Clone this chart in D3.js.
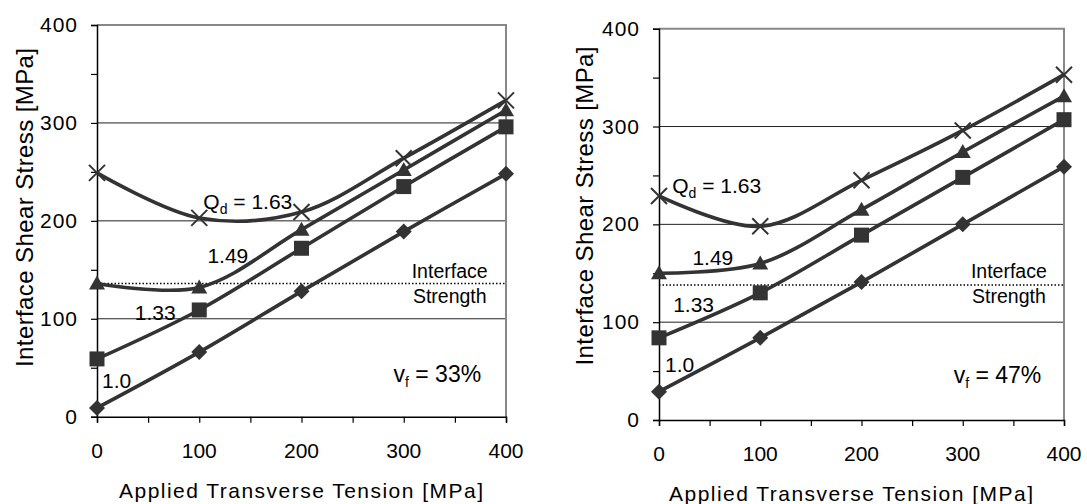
<!DOCTYPE html>
<html>
<head>
<meta charset="utf-8">
<script src="https://cdn.jsdelivr.net/npm/d3@7"></script>
<style>
  body { margin: 0; background: #fff; }
  svg { display: block; font-family: "Liberation Sans", Arial, sans-serif; }
</style>
</head>
<body>
<div class="visHolder"></div>
<script>
// applied transverse tension [MPa]
const tension = [0, 100, 200, 300, 400];
const xTicks = [0, 100, 200, 300, 400];
const yTicks = [0, 100, 200, 300, 400];
const qdNames = ["1.0", "1.33", "1.49", "1.63"];

// interface shear stress [MPa], vf = 33%
const vf33_q100 = [9, 66, 128, 189, 248];
const vf33_q133 = [59, 109, 172, 235, 296];
const vf33_q149 = [136, 132, 191, 252, 313];
const vf33_q163 = [249, 203, 209, 264, 323];
const vf33_strength = 136;

// interface shear stress [MPa], vf = 47%
const vf47_q100 = [29, 84, 141, 200, 259];
const vf47_q133 = [84, 130, 189, 248, 307];
const vf47_q149 = [150, 160, 215, 274, 331];
const vf47_q163 = [229, 198, 245, 296, 353];
const vf47_strength = 138;

const width = 1087;
const height = 504;
const ink = '#333';

const svg = d3.select('.visHolder')
  .append('svg')
  .attr('width', width)
  .attr('height', height);

svg.append('rect').attr('width', width).attr('height', height).attr('fill', '#fff');

// marker shapes, drawn around 0,0
const markers = {
  diamond: 'M0,-8L8,0L0,8L-8,0Z',
  square: 'M-7.5,-7.5H7.5V7.5H-7.5Z',
  triangle: 'M0,-8L8,6L-8,6Z',
  cross: 'M-8,-8L8,8M-8,8L8,-8'
};
const markerOrder = ['diamond', 'square', 'triangle', 'cross'];

function drawPanel(p) {
  const x = d3.scaleLinear().domain([0, 400]).range([p.left, p.right]);
  const y = d3.scaleLinear().domain([0, 400]).range([p.bottom, p.top]);
  const g = svg.append('g');

  // grid lines
  g.selectAll('.grid')
    .data(yTicks.filter(d => d > 0 && d < 400))
    .enter()
    .append('line')
    .attr('x1', p.left).attr('x2', p.right)
    .attr('y1', d => y(d)).attr('y2', d => y(d))
    .attr('stroke', '#222').attr('stroke-width', 1);

  // frame top + right (grey)
  g.append('path')
    .attr('d', `M${p.left},${y(400)}H${p.right}V${p.bottom}`)
    .attr('fill', 'none').attr('stroke', '#888').attr('stroke-width', 2);

  // interface strength
  g.append('line')
    .attr('x1', p.left).attr('x2', p.right)
    .attr('y1', y(p.strength)).attr('y2', y(p.strength))
    .attr('stroke', '#000').attr('stroke-width', 1.5)
    .attr('stroke-dasharray', '1.5,2');

  // axes
  const yAxis = d3.axisLeft(y).tickValues(d3.range(0, 401, 50)).tickSize(6).tickFormat('');
  g.append('g').attr('transform', `translate(${p.left},0)`).call(yAxis)
    .call(a => a.select('.domain').attr('stroke', '#000').attr('stroke-width', 1.5))
    .call(a => a.selectAll('line').attr('stroke', '#000').attr('stroke-width', 1.2));
  const xAxis = d3.axisBottom(x).tickValues(d3.range(0, 401, 50)).tickSize(6).tickFormat('');
  g.append('g').attr('transform', `translate(0,${p.bottom})`).call(xAxis)
    .call(a => a.select('.domain').attr('stroke', '#000').attr('stroke-width', 1.5))
    .call(a => a.selectAll('line').attr('stroke', '#000').attr('stroke-width', 1.2));

  // tick labels
  g.selectAll('.ylab')
    .data(yTicks)
    .enter()
    .append('text')
    .attr('x', p.left - 19)
    .attr('y', d => y(d) + 7)
    .attr('text-anchor', 'end')
    .attr('font-size', 21)
    .attr('letter-spacing', 1)
    .attr('fill', '#000')
    .text(d => d);
  g.selectAll('.xlab')
    .data(xTicks)
    .enter()
    .append('text')
    .attr('x', d => x(d))
    .attr('y', p.bottom + 41)
    .attr('text-anchor', 'middle')
    .attr('font-size', 21)
    .attr('fill', '#000')
    .text(d => d);

  // axis titles
  g.append('text')
    .attr('x', p.xTitleX).attr('y', p.bottom + 81)
    .attr('text-anchor', 'middle')
    .attr('font-size', 21)
    .attr('textLength', 364).attr('lengthAdjust', 'spacing')
    .attr('fill', '#000')
    .text('Applied Transverse Tension [MPa]');
  g.append('text')
    .attr('transform', `translate(${p.yTitleX},${p.yTitleY}) rotate(-90)`)
    .attr('text-anchor', 'middle')
    .attr('font-size', 24)
    .attr('textLength', 319).attr('lengthAdjust', 'spacing')
    .attr('fill', '#000')
    .text('Interface Shear Stress [MPa]');

  // series
  const line = d3.line()
    .x((d, i) => x(tension[i]))
    .y(d => y(d))
    .curve(d3.curveCatmullRom.alpha(0.5));

  p.series.forEach((vals, k) => {
    g.append('path')
      .attr('d', line(vals))
      .attr('fill', 'none')
      .attr('stroke', ink)
      .attr('stroke-width', 3.6);
    const shape = markerOrder[k];
    g.selectAll(null)
      .data(vals)
      .enter()
      .append('path')
      .attr('transform', (d, i) => `translate(${x(tension[i])},${y(d)})`)
      .attr('d', markers[shape])
      .attr('fill', shape === 'cross' ? 'none' : ink)
      .attr('stroke', shape === 'cross' ? ink : 'none')
      .attr('stroke-width', 2);
  });

  // curve labels
  p.labels.forEach((lab, k) => {
    const t = g.append('text')
      .attr('x', x(lab[0])).attr('y', y(lab[1]))
      .attr('font-size', 21)
      .attr('fill', '#000');
    if (k === 3) {
      t.append('tspan').text('Q');
      t.append('tspan').attr('font-size', 14).attr('dy', 5).text('d');
      t.append('tspan').attr('dy', -5).text(' = ' + qdNames[k]);
    } else {
      t.text(qdNames[k]);
    }
  });

  // interface strength label
  g.append('text')
    .attr('x', x(p.strengthLab[0])).attr('y', y(p.strengthLab[1]))
    .attr('text-anchor', 'end').attr('font-size', 19.5).attr('fill', '#000')
    .text('Interface');
  g.append('text')
    .attr('x', x(p.strengthLab[0]) - 1).attr('y', y(p.strengthLab[1]) + 25)
    .attr('text-anchor', 'end').attr('font-size', 19.5).attr('fill', '#000')
    .text('Strength');

  // fibre volume fraction
  const vf = g.append('text')
    .attr('x', x(p.vfLab[0])).attr('y', y(p.vfLab[1]))
    .attr('font-size', 23).attr('fill', '#000');
  vf.append('tspan').text('v');
  vf.append('tspan').attr('font-size', 14).attr('dy', 5).text('f');
  vf.append('tspan').attr('dy', -5).text(' = ' + p.vfText);
}

drawPanel({
  left: 97, right: 506, top: 25, bottom: 416.7,
  strength: vf33_strength,
  series: [vf33_q100, vf33_q133, vf33_q149, vf33_q163],
  labels: [[5, 29], [37, 99], [108, 157], [104, 212]],
  strengthLab: [382, 142],
  vfLab: [290, 35.5],
  vfText: '33%',
  xTitleX: 301, yTitleX: 33, yTitleY: 207.5
});

drawPanel({
  left: 659, right: 1064, top: 28.7, bottom: 420,
  strength: vf47_strength,
  series: [vf47_q100, vf47_q133, vf47_q149, vf47_q163],
  labels: [[6, 49], [14, 110.5], [33, 158.5], [13, 232]],
  strengthLab: [383, 145],
  vfLab: [291, 38],
  vfText: '47%',
  xTitleX: 851, yTitleX: 593, yTitleY: 206
});
</script>
</body>
</html>
